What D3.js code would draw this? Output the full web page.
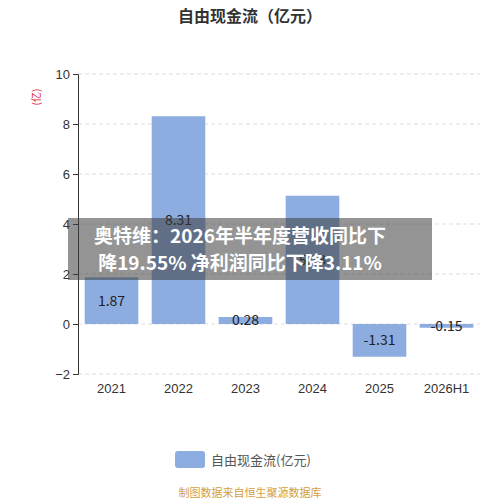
<!DOCTYPE html>
<html><head><meta charset="utf-8">
<script src="https://cdn.jsdelivr.net/npm/d3@7"></script>
<style>body{margin:0;background:#fff}svg{font-family:"Noto Sans CJK SC","Noto Sans",sans-serif}</style>
</head><body><svg id="chart"></svg>
<script>
const categories = ["2021", "2022", "2023", "2024", "2025", "2026H1"];
const values = [1.87, 8.31, 0.28, 5.13, -1.31, -0.15];
const yTicks = [-2, 0, 2, 4, 6, 8, 10];

const width = 500, height = 500;
const svg = d3.select("#chart").attr("width", width).attr("height", height);

const x = d3.scaleBand().domain(categories).range([78, 480]).paddingInner(0.2).paddingOuter(0.1);
const y = d3.scaleLinear().domain([-2, 10]).range([374, 74]);

// grid
svg.append("g").selectAll("line").data(yTicks).enter().append("line")
  .attr("x1", 78).attr("x2", 480).attr("y1", d => y(d)).attr("y2", d => y(d))
  .attr("stroke", "#ddd").attr("stroke-dasharray", "4,3");

// bars
svg.append("g").selectAll("rect").data(values).enter().append("rect")
  .attr("x", (d, i) => x(categories[i]))
  .attr("width", x.bandwidth())
  .attr("y", d => y(Math.max(0, d)))
  .attr("height", d => Math.abs(y(d) - y(0)))
  .attr("fill", "#8dade0");

// labels, centred in each bar
svg.append("g").selectAll("text").data(values).enter().append("text")
  .attr("x", (d, i) => x(categories[i]) + x.bandwidth() / 2)
  .attr("y", d => (y(d) + y(0)) / 2)
  .attr("dy", "0.35em")
  .attr("text-anchor", "middle").attr("font-size", 14).attr("fill", "#222")
  .text(d => d.toFixed(2));

// axes
const yAxis = svg.append("g").attr("transform", "translate(78,0)")
  .call(d3.axisLeft(y).tickValues(yTicks).tickSize(5).tickFormat(d3.format("d")));
yAxis.selectAll("text").attr("font-size", 13).attr("fill", "#333");
yAxis.selectAll("line, path").attr("stroke", "#333");

const xAxis = svg.append("g").attr("transform", `translate(0,${y(-2)})`)
  .call(d3.axisBottom(x).tickSize(0).tickPadding(10));
xAxis.select("path").remove();
xAxis.selectAll("text").attr("font-size", 13).attr("fill", "#333");

svg.append("text").attr("transform", "translate(40,97) rotate(-90)")
  .attr("text-anchor", "middle").attr("font-size", 10).attr("fill", "#d23").text("(亿)");

// title
svg.append("text").attr("x", 250).attr("y", 22).attr("text-anchor", "middle")
  .attr("font-size", 16).attr("font-weight", "bold").attr("fill", "#333").text("自由现金流（亿元）");

// legend
svg.append("rect").attr("x", 175).attr("y", 451).attr("width", 30).attr("height", 17)
  .attr("rx", 3).attr("fill", "#8dade0");
svg.append("text").attr("x", 211).attr("y", 465).attr("font-size", 13).attr("fill", "#555").text("自由现金流(亿元)");
svg.append("text").attr("x", 250).attr("y", 497).attr("text-anchor", "middle")
  .attr("font-size", 11).attr("fill", "#d4a040").text("制图数据来自恒生聚源数据库");

// banner overlay
svg.append("rect").attr("x", 68).attr("y", 218).attr("width", 364).attr("height", 62)
  .attr("fill", "rgba(60,60,60,0.55)");
const banner = ["奥特维：2026年半年度营收同比下", "降19.55% 净利润同比下降3.11%"];
svg.append("g").selectAll("text").data(banner).enter().append("text")
  .attr("x", 240).attr("y", (d, i) => 243 + i * 27).attr("text-anchor", "middle")
  .attr("font-size", 19).attr("font-weight", "bold").attr("fill", "#fff").text(d => d);
</script></body></html>
